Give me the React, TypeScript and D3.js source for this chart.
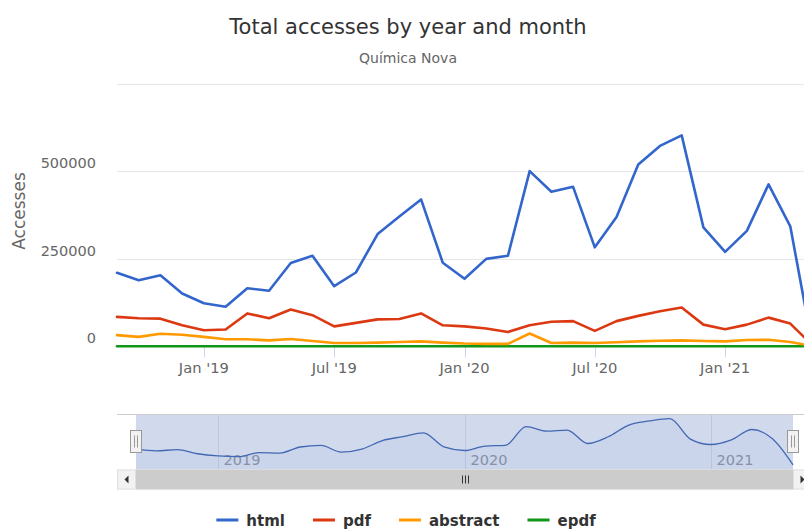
import React, { useEffect, useRef } from 'react';
import * as d3 from 'd3';

// monthly totals, Sep 2018 .. May 2021
const months = [
  '2018-09', '2018-10', '2018-11', '2018-12',
  '2019-01', '2019-02', '2019-03', '2019-04', '2019-05', '2019-06',
  '2019-07', '2019-08', '2019-09', '2019-10', '2019-11', '2019-12',
  '2020-01', '2020-02', '2020-03', '2020-04', '2020-05', '2020-06',
  '2020-07', '2020-08', '2020-09', '2020-10', '2020-11', '2020-12',
  '2021-01', '2021-02', '2021-03', '2021-04', '2021-05',
];

const html = [
  210000, 189000, 203000, 151000,
  123000, 113000, 166000, 159000, 238000, 259000,
  172000, 211000, 321000, 371000, 420000, 239000,
  193000, 250000, 259000, 501000, 442000, 456000,
  283000, 370000, 520000, 573000, 603000, 340000,
  270000, 330000, 463000, 343000, 8000,
];

const pdf = [
  84000, 80000, 79000, 60000,
  46000, 48000, 94000, 80000, 105000, 89000,
  57000, 67000, 77000, 78000, 94000, 60000,
  57000, 51000, 41000, 60000, 70000, 72000,
  44000, 72000, 87000, 100000, 111000, 62000,
  49000, 62000, 82000, 65000, 4000,
];

const abstract = [
  32000, 27000, 36000, 33000,
  27000, 20000, 20000, 17000, 21000, 15000,
  9500, 9500, 10500, 12500, 14000, 10500,
  7800, 7000, 7000, 36500, 9500, 10500,
  9500, 11500, 14000, 16000, 17000, 15000,
  14000, 18000, 18500, 12500, 1000,
];

const epdf = [
  0, 0, 0, 0,
  0, 0, 0, 0, 0, 0,
  0, 0, 0, 0, 0, 0,
  0, 0, 0, 0, 0, 0,
  0, 0, 0, 0, 0, 0,
  0, 0, 0, 0, 0,
];

const yTicks = [0, 250000, 500000, 750000];
const monthNames = ['Jan', 'Feb', 'Mar', 'Apr', 'May', 'Jun', 'Jul', 'Aug', 'Sep', 'Oct', 'Nov', 'Dec'];

const series = [
  { name: 'html', color: '#3366cc', values: html },
  { name: 'pdf', color: '#dc3912', values: pdf },
  { name: 'abstract', color: '#ff9900', values: abstract },
  { name: 'epdf', color: '#109618', values: epdf },
];

const FONT = '"DejaVu Sans", sans-serif';

const App = () => {
  const ref = useRef<SVGSVGElement | null>(null);

  useEffect(() => {
    if (!ref.current) return;
    const svg = d3.select(ref.current);
    svg.selectAll('*').remove();

    const plotLeft = 117;
    const plotRight = 812;
    const plotTop = 84;
    const plotBottom = 346.3;

    const idx = months.map((_, i) => i);
    const x = d3.scaleLinear().domain([0, months.length - 1]).range([plotLeft, plotRight]);
    const y = d3.scaleLinear().domain([0, 750000]).range([plotBottom, plotTop]);

    // title
    svg.append('text')
      .attr('x', 408).attr('y', 34)
      .attr('text-anchor', 'middle')
      .attr('font-size', 21).attr('fill', '#333333')
      .text('Total accesses by year and month');
    svg.append('text')
      .attr('x', 408).attr('y', 63)
      .attr('text-anchor', 'middle')
      .attr('font-size', 14).attr('fill', '#666666')
      .text('Química Nova');

    // grid + y labels
    const grid = svg.append('g');
    yTicks.forEach((t) => {
      grid.append('line')
        .attr('x1', plotLeft).attr('x2', plotRight)
        .attr('y1', Math.round(y(t)) + 0.5).attr('y2', Math.round(y(t)) + 0.5)
        .attr('stroke', '#e6e6e6').attr('stroke-width', 1);
      if (t < 750000) {
        grid.append('text')
          .attr('x', 96).attr('y', y(t) - 3)
          .attr('text-anchor', 'end')
          .attr('font-size', 14.5).attr('fill', '#666666')
          .text(String(t));
      }
    });

    svg.append('text')
      .attr('transform', `translate(25, 211) rotate(-90)`)
      .attr('text-anchor', 'middle')
      .attr('font-size', 17).attr('fill', '#666666')
      .text('Accesses');

    // x ticks (ordinal, Jan/Jul)
    const xAxis = svg.append('g');
    idx.forEach((i) => {
      const [yr, mo] = months[i].split('-');
      if (mo !== '01' && mo !== '07') return;
      const px = Math.round(x(i)) + 0.5;
      xAxis.append('line')
        .attr('x1', px).attr('x2', px)
        .attr('y1', plotBottom).attr('y2', plotBottom + 11)
        .attr('stroke', '#ccd6eb');
      xAxis.append('text')
        .attr('x', x(i)).attr('y', 373)
        .attr('text-anchor', 'middle')
        .attr('font-size', 14.7).attr('fill', '#666666')
        .text(`${monthNames[+mo - 1]} '${yr.slice(2)}`);
    });

    // series lines
    const line = d3.line<number>()
      .x((_, i) => x(i))
      .y((d) => y(d));
    [...series].reverse().forEach((s) => {
      svg.append('path')
        .datum(s.values)
        .attr('fill', 'none')
        .attr('stroke', s.color)
        .attr('stroke-width', 2.6)
        .attr('stroke-linejoin', 'round')
        .attr('stroke-linecap', 'round')
        .attr('d', line);
    });

    // navigator
    const navTop = 414;
    const navBottom = 469.5;
    const navLeft = 136;
    const navRight = 793;
    const nx = d3.scaleLinear().domain([0, months.length - 1]).range([navLeft, navRight]);
    const hMin = d3.min(html)!;
    const hMax = d3.max(html)!;
    const pad = (hMax - hMin) * 0.1;
    const ny = d3.scaleLinear().domain([hMin - pad, hMax + pad]).range([navBottom, navTop]);

    const nav = svg.append('g');
    idx.forEach((i) => {
      const [yr, mo] = months[i].split('-');
      if (mo !== '01') return;
      const px = Math.round(nx(i)) + 0.5;
      nav.append('line')
        .attr('x1', px).attr('x2', px)
        .attr('y1', navTop).attr('y2', navBottom)
        .attr('stroke', '#e6e6e6');
      nav.append('text')
        .attr('x', px + 5).attr('y', 465)
        .attr('font-size', 14.5).attr('fill', '#999999')
        .text(yr);
    });

    const navArea = d3.area<number>()
      .x((_, i) => nx(i))
      .y0(navBottom)
      .y1((d) => ny(d))
      .curve(d3.curveMonotoneX);
    nav.append('path')
      .datum(html)
      .attr('fill', '#335cad').attr('fill-opacity', 0.05)
      .attr('d', navArea);
    nav.append('path')
      .datum(html)
      .attr('fill', 'none').attr('stroke', '#335cad').attr('stroke-width', 1.3)
      .attr('d', navArea.lineY1());

    // mask over selected range
    nav.append('rect')
      .attr('x', navLeft).attr('y', navTop)
      .attr('width', navRight - navLeft).attr('height', navBottom - navTop)
      .attr('fill', 'rgba(102,133,194,0.3)');
    nav.append('line')
      .attr('x1', plotLeft).attr('x2', plotRight)
      .attr('y1', navTop + 0.5).attr('y2', navTop + 0.5)
      .attr('stroke', '#cccccc');

    // handles
    [navLeft, navRight].forEach((hx) => {
      const g = nav.append('g').attr('transform', `translate(${Math.round(hx) - 5.5}, 430.5)`);
      g.append('rect').attr('width', 11).attr('height', 22)
        .attr('fill', '#f2f2f2').attr('stroke', '#999999');
      [4, 7].forEach((gx) => {
        g.append('line').attr('x1', gx).attr('x2', gx).attr('y1', 5).attr('y2', 17)
          .attr('stroke', '#999999');
      });
    });

    // scrollbar
    const sbTop = 469.5;
    const sbH = 20;
    const sb = svg.append('g');
    sb.append('rect')
      .attr('x', plotLeft).attr('y', sbTop)
      .attr('width', plotRight - plotLeft).attr('height', sbH)
      .attr('fill', '#f2f2f2');
    sb.append('rect')
      .attr('x', navLeft).attr('y', sbTop)
      .attr('width', navRight - navLeft).attr('height', sbH)
      .attr('fill', '#cccccc');
    [[plotLeft, navLeft, -1], [navRight, plotRight, 1]].forEach(([a, b, dir]) => {
      sb.append('rect')
        .attr('x', a + 0.5).attr('y', sbTop + 0.5)
        .attr('width', b - a - 1).attr('height', sbH - 1)
        .attr('fill', '#f2f2f2').attr('stroke', '#e0e0e0');
      const cx = (a + b) / 2;
      const cy = sbTop + sbH / 2;
      // triangle pointing outward (left for the left button)
      sb.append('path')
        .attr('d', `M${cx - dir * 2},${cy - 4} L${cx - dir * 2},${cy + 4} L${cx + dir * 2},${cy} Z`)
        .attr('fill', '#333333');
    });
    const gripX = (navLeft + navRight) / 2;
    [-3, 0, 3].forEach((o) => {
      sb.append('line')
        .attr('x1', Math.round(gripX + o) + 0.5).attr('x2', Math.round(gripX + o) + 0.5)
        .attr('y1', sbTop + 6).attr('y2', sbTop + 14)
        .attr('stroke', '#333333');
    });

    // legend
    const ctx = document.createElement('canvas').getContext('2d')!;
    ctx.font = `bold 15px ${FONT}`;
    const symW = 22;
    const gap = 8;
    const dist = 28;
    const widths = series.map((s) => symW + gap + ctx.measureText(s.name).width);
    const total = d3.sum(widths) + dist * (series.length - 1);
    let lx = 406 - total / 2;
    const legend = svg.append('g');
    series.forEach((s, i) => {
      legend.append('line')
        .attr('x1', lx).attr('x2', lx + symW)
        .attr('y1', 520).attr('y2', 520)
        .attr('stroke', s.color).attr('stroke-width', 3);
      legend.append('text')
        .attr('x', lx + symW + gap).attr('y', 526.3)
        .attr('font-size', 15).attr('font-weight', 'bold').attr('fill', '#333333')
        .text(s.name);
      lx += widths[i] + dist;
    });
  }, []);

  return (
    <svg
      ref={ref}
      width={804}
      height={530}
      style={{ position: 'absolute', left: 0, top: 0, fontFamily: FONT, background: '#ffffff' }}
    />
  );
};

export default App;
